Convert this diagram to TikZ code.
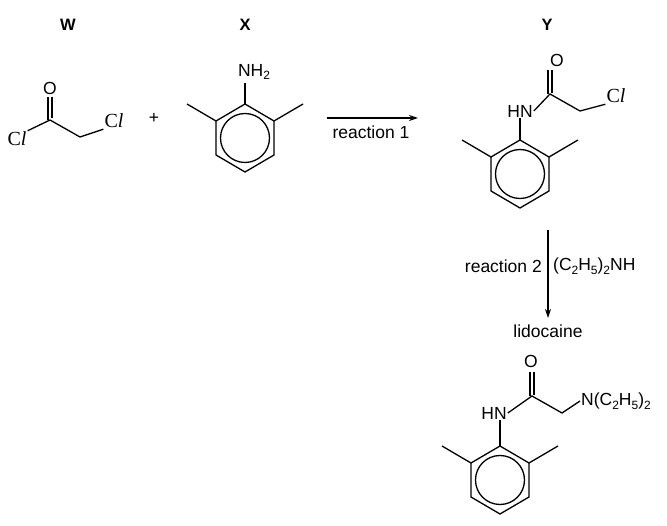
\documentclass[tikz,border=0pt]{standalone}
\usepackage{fontspec}
\setmainfont{Liberation Sans}
\newfontfamily\serifcl{Liberation Serif}
\tikzset{bond/.style={line width=1.3pt},lab/.style={font=\fontsize{17.5}{20}\selectfont,inner sep=1pt},
 ttl/.style={font=\fontsize{16.5}{19}\selectfont\bfseries},arr/.style={line width=1.3pt,-{Stealth[length=9pt,width=6pt]}}}
\usetikzlibrary{arrows.meta}
\newcommand{\Clx}{{\serifcl\fontsize{20}{22}\selectfont C\textit{l}}}
\newcommand{\sbs}[1]{\raisebox{-0.4ex}{\fontsize{12}{13}\selectfont #1}}
\newcommand{\xylring}[3]{% prefix, cx, top y
 \coordinate (#1t) at (#2,#3); \coordinate (#1ul) at (#2-29,#3+17); \coordinate (#1ll) at (#2-29,#3+51);
 \coordinate (#1b) at (#2,#3+68); \coordinate (#1lr) at (#2+29,#3+51); \coordinate (#1ur) at (#2+29,#3+17);
 \draw[bond,line join=miter] (#1t) -- (#1ul) -- (#1ll) -- (#1b) -- (#1lr) -- (#1ur) -- cycle;
 \draw[bond] (#2,#3+34) circle[radius=24.5];
 \draw[bond] (#1ul) -- ++(-29,-17) coordinate (#1m1);
 \draw[bond] (#1ur) -- ++(29,-17) coordinate (#1m2);}
\begin{document}
\begin{tikzpicture}[x=1pt,y=-1pt]
\useasboundingbox (0,0) rectangle (667,526);
\node[ttl] (tw) at (68,25) {W};
\node[ttl] (tx) at (245,25) {X};
\node[ttl] (ty) at (547,25) {Y};
% W
\node[lab] (wcl1) at (17,139) {\Clx};
\node[lab] (wo) at (50,88) {O};
\node[lab] (wcl2) at (114,121) {\Clx};
\coordinate (wc) at (50,120); \coordinate (wch) at (80,137);
\draw[bond] (wcl1.north east) -- (wc) -- (wch) -- (wcl2.south west);
\draw[bond] (48,97) -- (48,120) (52,97) -- (52,118);
\node[lab] (plus) at (154,118) {+};
% X
\xylring{x}{245}{104}
\node[lab] (nh2) at (254,72) {NH\sbs{2}};
\draw[bond] (xt) -- (245,83);
% arrow 1
\coordinate (a1s) at (327,118); \coordinate (a1e) at (418,118);
\draw[arr] (a1s) -- (a1e);
\node[lab] (r1) at (371,132) {reaction 1};
% Y
\xylring{y}{520}{140}
\node[lab] (yhn) at (520,111) {HN};
\coordinate (yc) at (550,94); \coordinate (ych) at (580,111);
\node[lab] (yo) at (557,60) {O};
\node[lab] (ycl) at (616,96) {\Clx};
\draw[bond] (yt) -- (yhn.south -| yt);
\draw[bond] (yhn.east) -- (yc) -- (ych) -- (ycl.south west);
\draw[bond] (548,94) -- (548,70) (552,93) -- (552,70);
% arrow 2
\coordinate (a2s) at (548,230); \coordinate (a2e) at (548,318);
\draw[arr] (a2s) -- (a2e);
\node[lab,anchor=east] (r2) at (543,266) {reaction 2};
\node[lab,anchor=west] (r2b) at (552,266) {(C\sbs{2}H\sbs{5})\sbs{2}NH};
\node[lab] (lido) at (548,331) {lidocaine};
% lidocaine
\xylring{l}{500}{446}
\node[lab] (lhn) at (494,413) {HN};
\coordinate (lc) at (532,396); \coordinate (lch) at (562,413);
\node[lab] (lo) at (531,361) {O};
\node[lab,anchor=west] (ln) at (580,401) {N(C\sbs{2}H\sbs{5})\sbs{2}};
\draw[bond] (lt) -- (lhn.south -| lt);
\draw[bond] (lhn.east) -- (lc) -- (lch) -- (ln.west);
\draw[bond] (530,396) -- (530,372) (534,395) -- (534,372);
\end{tikzpicture}
\end{document}
